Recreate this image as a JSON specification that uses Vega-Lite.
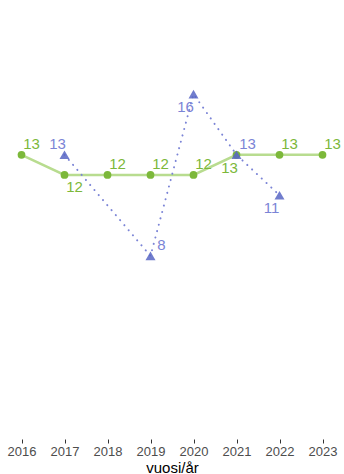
{
  "$schema": "https://vega.github.io/schema/vega-lite/v6.json",
  "width": 344,
  "height": 439,
  "autosize": {"type": "none"},
  "padding": {"left": 0, "top": 0, "right": 0, "bottom": 35},
  "background": "white",
  "config": {"view": {"stroke": null}, "font": "Liberation Sans"},
  "datasets": {
    "green": [
      {"year": "2016", "value": 13, "pos": "ar"},
      {"year": "2017", "value": 12, "pos": "br"},
      {"year": "2018", "value": 12, "pos": "ar"},
      {"year": "2019", "value": 12, "pos": "ar"},
      {"year": "2020", "value": 12, "pos": "ar"},
      {"year": "2021", "value": 13, "pos": "bl"},
      {"year": "2022", "value": 13, "pos": "ar"},
      {"year": "2023", "value": 13, "pos": "ar"}
    ],
    "blue": [
      {"year": "2017", "value": 13, "pos": "al"},
      {"year": "2019", "value": 8, "pos": "ar"},
      {"year": "2020", "value": 16, "pos": "bl"},
      {"year": "2021", "value": 13, "pos": "ar"},
      {"year": "2022", "value": 11, "pos": "bl"}
    ]
  },
  "encoding": {
    "x": {
      "field": "year",
      "type": "ordinal",
      "scale": {"type": "point", "padding": 0.5, "domain": ["2016","2017","2018","2019","2020","2021","2022","2023"]},
      "axis": {
        "title": "vuosi/år",
        "labelAngle": 0,
        "domain": false,
        "grid": false,
        "ticks": true,
        "tickSize": 4,
        "tickColor": "#333333",
        "labelColor": "#4d4d4d",
        "labelFontSize": 13,
        "labelPadding": 2,
        "titleFontSize": 15,
        "titleFontWeight": "normal",
        "titleColor": "#000000",
        "titlePadding": 2
      }
    },
    "y": {
      "field": "value",
      "type": "quantitative",
      "scale": {"domain": [-1.05, 20.65], "nice": false, "zero": false},
      "axis": null
    }
  },
  "layer": [
    {
      "data": {"name": "green"},
      "mark": {"type": "line", "color": "#b8dc8f", "strokeWidth": 2.5},
      "encoding": {}
    },
    {
      "data": {"name": "green"},
      "mark": {"type": "circle", "color": "#7cb83a", "opacity": 1, "size": 60},
      "encoding": {}
    },
    {
      "data": {"name": "blue"},
      "mark": {"type": "line", "color": "#7b84d6", "strokeWidth": 2, "strokeDash": [0.1, 6.5], "strokeCap": "round"},
      "encoding": {}
    },
    {
      "data": {"name": "blue"},
      "mark": {"type": "point", "shape": "triangle-up", "filled": true, "color": "#5866c4", "opacity": 0.85, "size": 100},
      "encoding": {}
    },
    {
      "data": {"name": "green"},
      "transform": [{"filter": "datum.pos === 'ar'"}],
      "mark": {"type": "text", "color": "#7cb83a", "fontSize": 15, "dx": 10, "dy": -11},
      "encoding": {"text": {"field": "value", "type": "quantitative"}}
    },
    {
      "data": {"name": "green"},
      "transform": [{"filter": "datum.pos === 'br'"}],
      "mark": {"type": "text", "color": "#7cb83a", "fontSize": 15, "dx": 10, "dy": 12},
      "encoding": {"text": {"field": "value", "type": "quantitative"}}
    },
    {
      "data": {"name": "green"},
      "transform": [{"filter": "datum.pos === 'bl'"}],
      "mark": {"type": "text", "color": "#7cb83a", "fontSize": 15, "dx": -7, "dy": 13},
      "encoding": {"text": {"field": "value", "type": "quantitative"}}
    },
    {
      "data": {"name": "blue"},
      "transform": [{"filter": "datum.pos === 'ar'"}],
      "mark": {"type": "text", "color": "#7b84d6", "fontSize": 15, "dx": 11, "dy": -11},
      "encoding": {"text": {"field": "value", "type": "quantitative"}}
    },
    {
      "data": {"name": "blue"},
      "transform": [{"filter": "datum.pos === 'al'"}],
      "mark": {"type": "text", "color": "#7b84d6", "fontSize": 15, "dx": -7, "dy": -11},
      "encoding": {"text": {"field": "value", "type": "quantitative"}}
    },
    {
      "data": {"name": "blue"},
      "transform": [{"filter": "datum.pos === 'bl'"}],
      "mark": {"type": "text", "color": "#7b84d6", "fontSize": 15, "dx": -8, "dy": 13},
      "encoding": {"text": {"field": "value", "type": "quantitative"}}
    }
  ]
}
